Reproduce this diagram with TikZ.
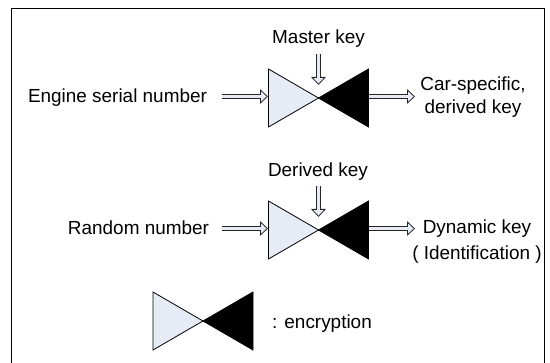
\documentclass[tikz,border=0pt]{standalone}
\usepackage{fontspec}
\setmainfont{Liberation Sans}
\usetikzlibrary{arrows.meta}
\definecolor{paleblue}{RGB}{230,235,246}
\tikzset{
  keylabel/.style={font=\fontsize{14.2pt}{17.5pt}\selectfont, align=center, inner sep=0pt},
  halfleft/.style={draw, fill=paleblue, line width=0.6pt, line join=miter},
  halfright/.style={draw, fill=black, line width=0.6pt, line join=miter},
  keyarrow/.style={draw=black!85, line width=3.9pt,
    -{Triangle[open, fill=paleblue, length=6pt, width=11pt, line width=0.6pt]},
    postaction={draw=paleblue, line width=2.5pt, arrows=-, shorten >=5pt}}
}
\newcommand{\encsymbol}[2]{
  \draw[halfleft] (#1-50,#2-29) -- (#1,#2) -- (#1-50,#2+29) -- cycle;
  \draw[halfright] (#1+50,#2-29) -- (#1,#2) -- (#1+50,#2+29) -- cycle;
}
\begin{document}
\begin{tikzpicture}[x=0.75pt, y=-0.75pt]
  \useasboundingbox (0,0) rectangle (550,363);
  \draw[line width=0.7pt] (11,363) -- (11,8) -- (544.5,8) -- (544.5,363);

  \encsymbol{318.5}{98}
  \encsymbol{318.5}{230}
  \encsymbol{203}{321}

  \node[keylabel] (engine) at (117.5,98) {Engine serial number};
  \node[keylabel] (master) at (318.5,39) {Master key};
  \node[keylabel] (car) at (473,97) {Car-specific,\\derived key};
  \node[keylabel] (derived) at (318,172) {Derived key};
  \node[keylabel] (random) at (138.5,228) {Random number};
  \node[keylabel] (dynamic) at (477,241.5) {Dynamic key\\[2pt]( Identification )};
  \node[keylabel] (enc) at (322,324) {: encryption};

  \coordinate (t1) at (268,96.5);
  \coordinate (t2) at (268,228.5);
  \coordinate (k1) at (318.5,85);
  \coordinate (k2) at (318.5,217);
  \coordinate (o1) at (368.5,96.5);
  \coordinate (o2) at (368.5,228.5);
  \coordinate (s1) at (222,96.5);
  \coordinate (s2) at (222,228.5);
  \coordinate (m1) at (318.5,54);
  \coordinate (m2) at (318.5,186);
  \coordinate (e1) at (415,96.5);
  \coordinate (e2) at (415,228.5);

  \draw[keyarrow] (s1) -- (t1);
  \draw[keyarrow] (s2) -- (t2);
  \draw[keyarrow] (m1) -- (k1);
  \draw[keyarrow] (m2) -- (k2);
  \draw[keyarrow] (o1) -- (e1);
  \draw[keyarrow] (o2) -- (e2);
\end{tikzpicture}
\end{document}
